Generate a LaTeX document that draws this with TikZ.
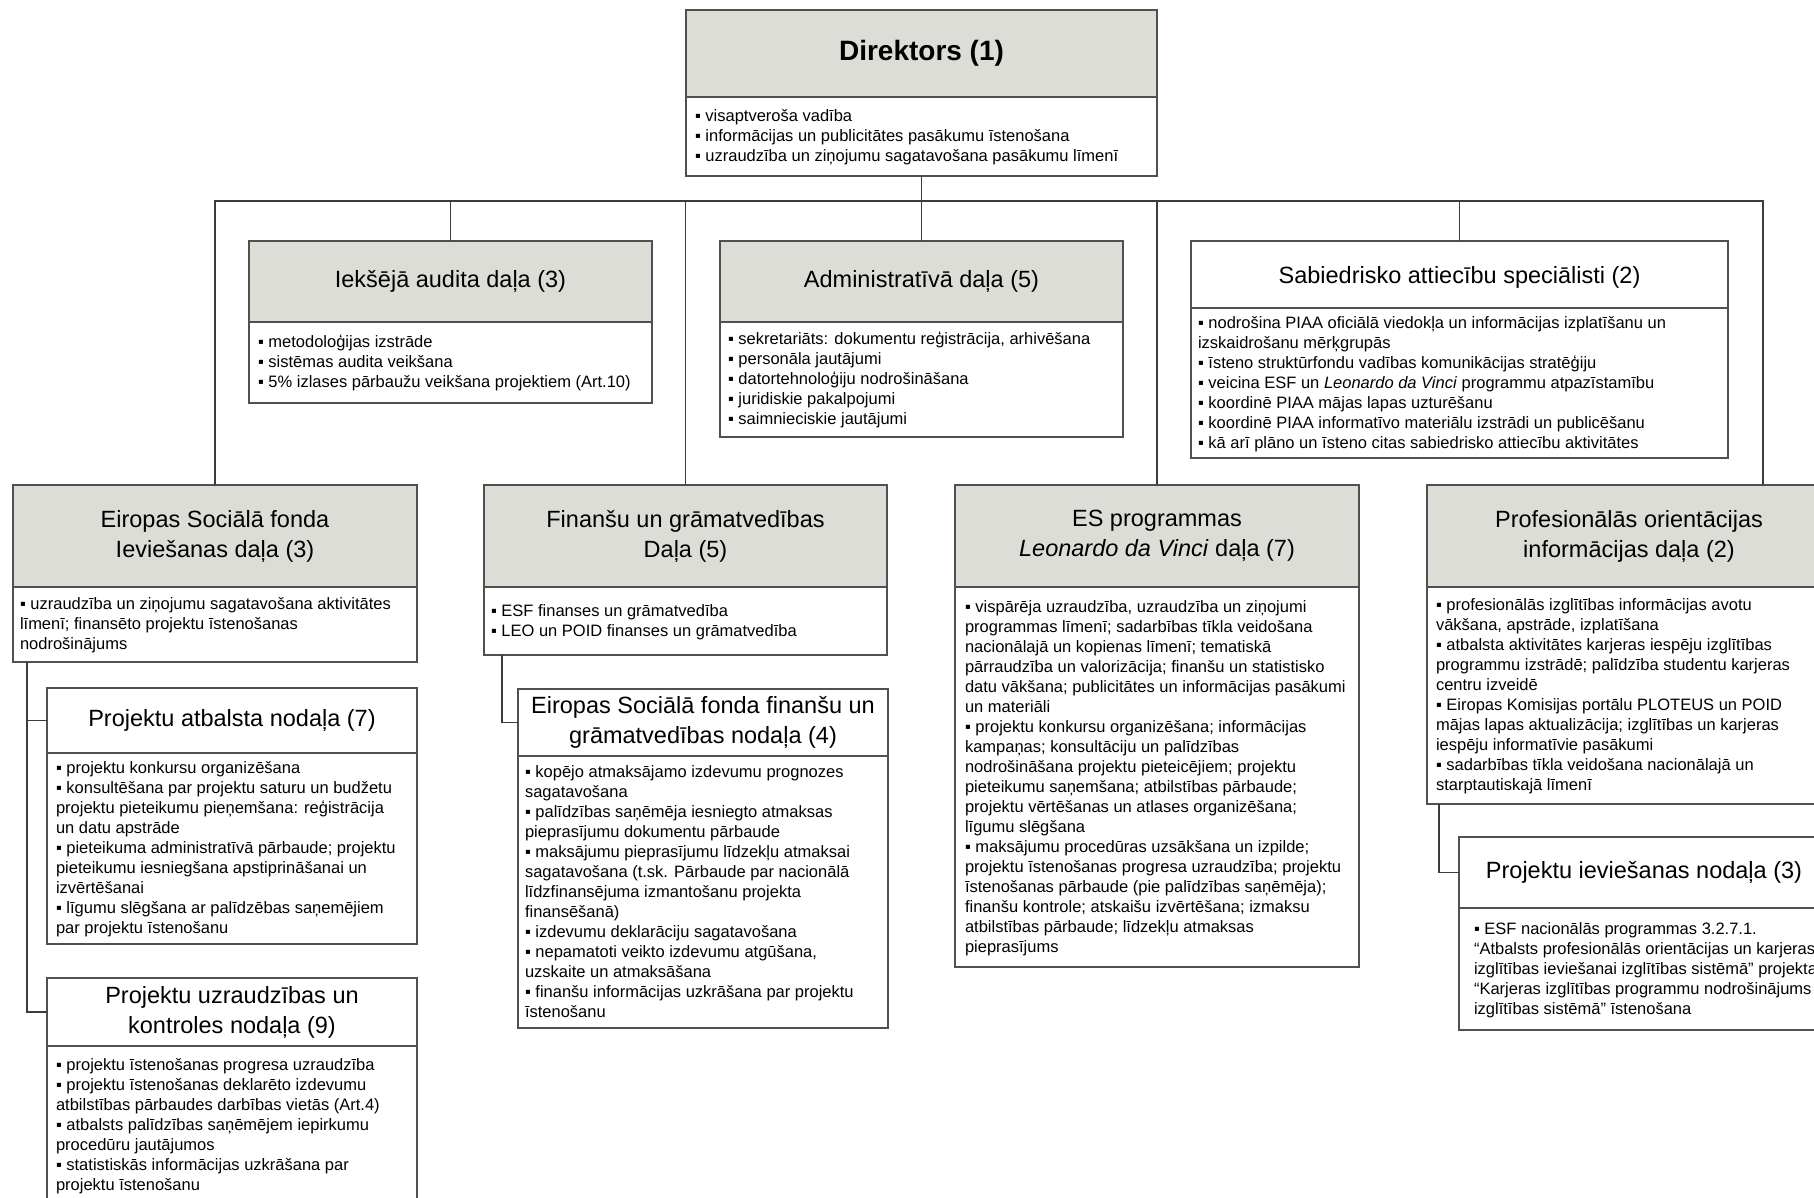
\documentclass[tikz,border=0pt]{standalone}
\usepackage{fontspec}
\setmainfont{Liberation Sans}
\definecolor{hdrgray}{RGB}{221,221,216}
\definecolor{bordercol}{RGB}{80,80,80}
\definecolor{conncol}{RGB}{60,60,60}
\newcommand\bstrut{\vrule height 15pt depth 5pt width 0pt}
\tikzset{
  boxline/.style={draw=bordercol, line width=1.3pt},
  hdr/.style={boxline, rectangle, inner sep=0pt, outer sep=0pt, align=center,
    font=\fontsize{23.5}{30}\selectfont, anchor=north west},
  bodyrect/.style={boxline, rectangle, inner sep=0pt, outer sep=0pt, fill=white, anchor=north},
  bodytext/.style={inner sep=0pt, outer sep=0pt, align=left, anchor=west,
    font=\fontsize{16.5}{20}\selectfont},
  conn/.style={draw=conncol, line width=1.2pt},
}
% #1 name, #2 (x,y) top-left, #3 width, #4 header height, #5 body height,
% #6 header fill, #7 text padding, #8 header text, #9 body text
\newcommand\orgbox[9]{%
  \node[hdr, fill=#6, minimum width=#3pt, minimum height=#4pt] (#1-h) at #2 {#8};
  \node[bodyrect, minimum width=#3pt, minimum height=#5pt] (#1-b) at (#1-h.south) {};
  \node[bodytext] (#1-t) at ([xshift=#7pt]#1-b.west) {\bstrut#9\bstrut};
}
\begin{document}
\begin{tikzpicture}[x=1pt, y=-1pt]
\useasboundingbox (0,0) rectangle (1814,1197);
\clip (0,0) rectangle (1814,1197);
\fill[white] (0,0) rectangle (1814,1197);

\coordinate (bus) at (0,201);
\coordinate (profin) at (1763,485);

\orgbox{dir}{(686,10)}{471}{87}{79}{hdrgray}{9}
  {\fontsize{28}{34}\selectfont\bfseries Direktors (1)}
  {▪ visaptveroša vadība\\
   ▪ informācijas un publicitātes pasākumu īstenošana\\
   ▪ uzraudzība un ziņojumu sagatavošana pasākumu līmenī}

\orgbox{iek}{(249,241)}{403}{81}{81}{hdrgray}{9}
  {Iekšējā audita daļa (3)}
  {▪ metodoloģijas izstrāde\\
   ▪ sistēmas audita veikšana\\
   ▪ 5\% izlases pārbaužu veikšana projektiem (Art.10)}

\orgbox{adm}{(720,241)}{403}{81}{115}{hdrgray}{8}
  {Administratīvā daļa (5)}
  {▪ sekretariāts: dokumentu reģistrācija, arhivēšana\\
   ▪ personāla jautājumi\\
   ▪ datortehnoloģiju nodrošināšana\\
   ▪ juridiskie pakalpojumi\\
   ▪ saimnieciskie jautājumi}

\orgbox{sab}{(1191,241)}{537}{67}{150}{white}{7}
  {\raisebox{-3pt}[\height][\depth]{Sabiedrisko attiecību speciālisti (2)}}
  {▪ nodrošina PIAA oficiālā viedokļa un informācijas izplatīšanu un\\
   izskaidrošanu mērķgrupās\\
   ▪ īsteno struktūrfondu vadības komunikācijas stratēģiju\\
   ▪ veicina ESF un \textit{Leonardo da Vinci} programmu atpazīstamību\\
   ▪ koordinē PIAA mājas lapas uzturēšanu\\
   ▪ koordinē PIAA informatīvo materiālu izstrādi un publicēšanu\\
   ▪ kā arī plāno un īsteno citas sabiedrisko attiecību aktivitātes}

\orgbox{esf}{(13,485)}{404}{102}{75}{hdrgray}{7}
  {Eiropas Sociālā fonda\\Ieviešanas daļa (3)}
  {▪ uzraudzība un ziņojumu sagatavošana aktivitātes\\
   līmenī; finansēto projektu īstenošanas\\
   nodrošinājums}

\orgbox{fin}{(484,485)}{403}{102}{68}{hdrgray}{7}
  {Finanšu un grāmatvedības\\Daļa (5)}
  {▪ ESF finanses un grāmatvedība\\
   ▪ LEO un POID finanses un grāmatvedība}

\orgbox{es}{(955,485)}{404}{102}{380}{hdrgray}{10}
  {ES programmas\\\textit{Leonardo da Vinci} daļa (7)}
  {▪ vispārēja uzraudzība, uzraudzība un ziņojumi\\
   programmas līmenī; sadarbības tīkla veidošana\\
   nacionālajā un kopienas līmenī; tematiskā\\
   pārraudzība un valorizācija; finanšu un statistisko\\
   datu vākšana; publicitātes un informācijas pasākumi\\
   un materiāli\\
   ▪ projektu konkursu organizēšana; informācijas\\
   kampaņas; konsultāciju un palīdzības\\
   nodrošināšana projektu pieteicējiem; projektu\\
   pieteikumu saņemšana; atbilstības pārbaude;\\
   projektu vērtēšanas un atlases organizēšana;\\
   līgumu slēgšana\\
   ▪ maksājumu procedūras uzsākšana un izpilde;\\
   projektu īstenošanas progresa uzraudzība; projektu\\
   īstenošanas pārbaude (pie palīdzības saņēmēja);\\
   finanšu kontrole; atskaišu izvērtēšana; izmaksu\\
   atbilstības pārbaude; līdzekļu atmaksas\\
   pieprasījums}

\orgbox{prof}{(1427,485)}{404}{102}{217}{hdrgray}{9}
  {Profesionālās orientācijas\\informācijas daļa (2)}
  {▪ profesionālās izglītības informācijas avotu\\
   vākšana, apstrāde, izplatīšana\\
   ▪ atbalsta aktivitātes karjeras iespēju izglītības\\
   programmu izstrādē; palīdzība studentu karjeras\\
   centru izveidē\\
   ▪ Eiropas Komisijas portālu PLOTEUS un POID\\
   mājas lapas aktualizācija; izglītības un karjeras\\
   iespēju informatīvie pasākumi\\
   ▪ sadarbības tīkla veidošana nacionālajā un\\
   starptautiskajā līmenī}

\orgbox{pa}{(47,688)}{370}{65}{191}{white}{9}
  {Projektu atbalsta nodaļa (7)}
  {▪ projektu konkursu organizēšana\\
   ▪ konsultēšana par projektu saturu un budžetu\\
   projektu pieteikumu pieņemšana: reģistrācija\\
   un datu apstrāde\\
   ▪ pieteikuma administratīvā pārbaude; projektu\\
   pieteikumu iesniegšana apstiprināšanai un\\
   izvērtēšanai\\
   ▪ līgumu slēgšana ar palīdzēbas saņemējiem\\
   par projektu īstenošanu}

\orgbox{pu}{(47,978)}{370}{68}{158}{white}{9}
  {Projektu uzraudzības un\\kontroles nodaļa (9)}
  {▪ projektu īstenošanas progresa uzraudzība\\
   ▪ projektu īstenošanas deklarēto izdevumu\\
   atbilstības pārbaudes darbības vietās (Art.4)\\
   ▪ atbalsts palīdzības saņēmējem iepirkumu\\
   procedūru jautājumos\\
   ▪ statistiskās informācijas uzkrāšana par\\
   projektu īstenošanu}

\orgbox{ef}{(518,689)}{370}{67}{272}{white}{7}
  {Eiropas Sociālā fonda finanšu un\\grāmatvedības nodaļa (4)}
  {▪ kopējo atmaksājamo izdevumu prognozes\\
   sagatavošana\\
   ▪ palīdzības saņēmēja iesniegto atmaksas\\
   pieprasījumu dokumentu pārbaude\\
   ▪ maksājumu pieprasījumu līdzekļu atmaksai\\
   sagatavošana (t.sk. Pārbaude par nacionālā\\
   līdzfinansējuma izmantošanu projekta\\
   finansēšanā)\\
   ▪ izdevumu deklarāciju sagatavošana\\
   ▪ nepamatoti veikto izdevumu atgūšana,\\
   uzskaite un atmaksāšana\\
   ▪ finanšu informācijas uzkrāšana par projektu\\
   īstenošanu}

\orgbox{pi}{(1459,837)}{370}{71}{122}{white}{15}
  {Projektu ieviešanas nodaļa (3)}
  {▪ ESF nacionālās programmas 3.2.7.1.\\
   “Atbalsts profesionālās orientācijas un karjeras\\
   izglītības ieviešanai izglītības sistēmā” projekta\\
   “Karjeras izglītības programmu nodrošinājums\\
   izglītības sistēmā” īstenošana}

% main connectors
\draw[conn] (esf-h.north) -- (esf-h.north |- bus) -- (profin |- bus) -- (profin);
\draw[conn] (dir-b.south) -- (adm-h.north);
\draw[conn] (iek-h.north) -- (iek-h.north |- bus);
\draw[conn] (fin-h.north) -- (fin-h.north |- bus);
\draw[conn] (es-h.north) -- (es-h.north |- bus);
\draw[conn] (sab-h.north) -- (sab-h.north |- bus);

% sub connectors
\coordinate (esfsub) at ([xshift=14pt]esf-b.south west);
\draw[conn] (esfsub) |- (pa-h.west);
\draw[conn] (esfsub) |- (pu-h.west);
\coordinate (finsub) at ([xshift=18pt]fin-b.south west);
\draw[conn] (finsub) |- (ef-h.west);
\coordinate (profsub) at ([xshift=12pt]prof-b.south west);
\draw[conn] (profsub) |- (pi-h.west);
\end{tikzpicture}
\end{document}
